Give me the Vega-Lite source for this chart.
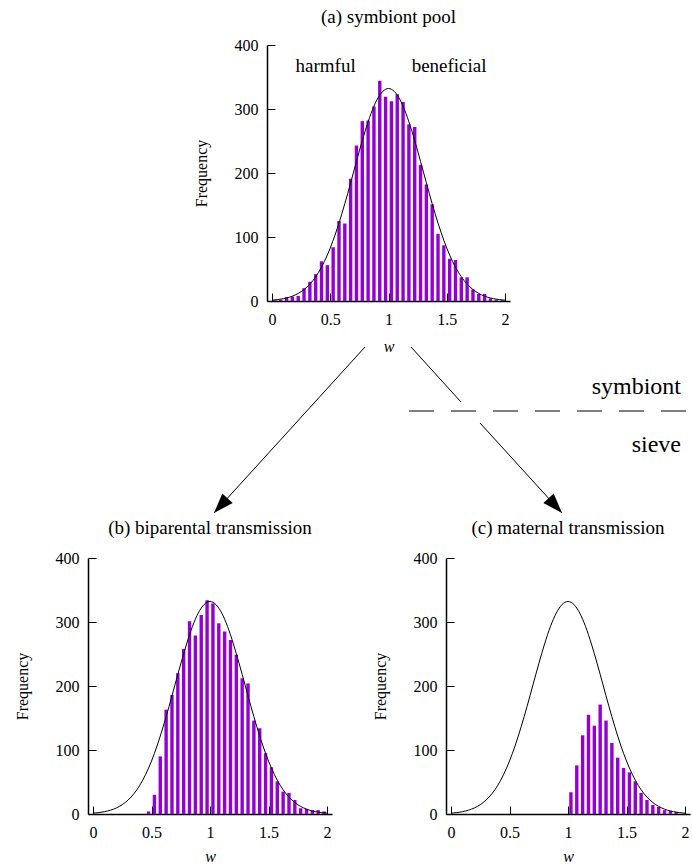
{
  "$schema": "https://vega.github.io/schema/vega-lite/v6.json",
  "autosize": {"type": "none"},
  "padding": {"left": 88, "top": 45, "right": 604, "bottom": 820},
  "background": "white",
  "config": {
    "font": "Liberation Serif",
    "view": {"stroke": null},
    "text": {"font": "Liberation Serif"},
    "axis": {
      "labelFont": "Liberation Serif", "labelFontSize": 16, "labelColor": "black",
      "titleFont": "Liberation Serif", "titleFontWeight": "normal", "titleColor": "black", "titleFontSize": 16,
      "domainColor": "black", "domainWidth": 1.5, "tickColor": "black", "tickWidth": 1, "tickSize": -8, "grid": false
    },
    "title": {"font": "Liberation Serif", "fontSize": 19, "fontWeight": "normal", "color": "black", "frame": "group", "baseline": "bottom", "offset": 12}
  },
  "datasets": {
    "pool": [
      {"w":0.025,"freq":1},{"w":0.075,"freq":2},{"w":0.125,"freq":6},{"w":0.175,"freq":7},{"w":0.225,"freq":8},
      {"w":0.275,"freq":20},{"w":0.325,"freq":30},{"w":0.375,"freq":42},{"w":0.425,"freq":62},{"w":0.475,"freq":56},
      {"w":0.525,"freq":84},{"w":0.575,"freq":125},{"w":0.625,"freq":121},{"w":0.675,"freq":191},{"w":0.725,"freq":243},
      {"w":0.775,"freq":281},{"w":0.825,"freq":282},{"w":0.875,"freq":304},{"w":0.925,"freq":344},{"w":0.975,"freq":319},
      {"w":1.025,"freq":312},{"w":1.075,"freq":323},{"w":1.125,"freq":311},{"w":1.175,"freq":276},{"w":1.225,"freq":272},
      {"w":1.275,"freq":213},{"w":1.325,"freq":182},{"w":1.375,"freq":151},{"w":1.425,"freq":105},{"w":1.475,"freq":87},
      {"w":1.525,"freq":66},{"w":1.575,"freq":64},{"w":1.625,"freq":37},{"w":1.675,"freq":37},{"w":1.725,"freq":18},
      {"w":1.775,"freq":11},{"w":1.825,"freq":11},{"w":1.875,"freq":4},{"w":1.925,"freq":2},{"w":1.975,"freq":1}
    ],
    "bip": [
      {"w":0.475,"freq":4},{"w":0.525,"freq":30},{"w":0.575,"freq":90},{"w":0.625,"freq":163},{"w":0.675,"freq":186},
      {"w":0.725,"freq":220},{"w":0.775,"freq":258},{"w":0.825,"freq":301},{"w":0.875,"freq":279},{"w":0.925,"freq":311},
      {"w":0.975,"freq":334},{"w":1.025,"freq":329},{"w":1.075,"freq":298},{"w":1.125,"freq":285},{"w":1.175,"freq":272},
      {"w":1.225,"freq":249},{"w":1.275,"freq":212},{"w":1.325,"freq":204},{"w":1.375,"freq":146},{"w":1.425,"freq":134},
      {"w":1.475,"freq":95},{"w":1.525,"freq":73},{"w":1.575,"freq":51},{"w":1.625,"freq":35},{"w":1.675,"freq":33},
      {"w":1.725,"freq":22},{"w":1.775,"freq":9},{"w":1.825,"freq":8},{"w":1.875,"freq":6},{"w":1.925,"freq":6},{"w":1.975,"freq":4}
    ],
    "mat": [
      {"w":1.025,"freq":34},{"w":1.075,"freq":76},{"w":1.125,"freq":123},{"w":1.175,"freq":155},{"w":1.225,"freq":138},
      {"w":1.275,"freq":171},{"w":1.325,"freq":146},{"w":1.375,"freq":111},{"w":1.425,"freq":88},{"w":1.475,"freq":72},
      {"w":1.525,"freq":65},{"w":1.575,"freq":51},{"w":1.625,"freq":33},{"w":1.675,"freq":22},{"w":1.725,"freq":14},
      {"w":1.775,"freq":11},{"w":1.825,"freq":6},{"w":1.875,"freq":5},{"w":1.925,"freq":3}
    ],
    "curve": [
      {"w":0,"freq":1.3},{"w":0.05,"freq":2.2},{"w":0.1,"freq":3.7},{"w":0.15,"freq":6.0},{"w":0.2,"freq":9.5},
      {"w":0.25,"freq":14.6},{"w":0.3,"freq":21.8},{"w":0.35,"freq":31.7},{"w":0.4,"freq":44.9},{"w":0.45,"freq":61.8},
      {"w":0.5,"freq":82.8},{"w":0.55,"freq":107.8},{"w":0.6,"freq":136.5},{"w":0.65,"freq":168.1},{"w":0.7,"freq":201.4},
      {"w":0.75,"freq":234.6},{"w":0.8,"freq":265.8},{"w":0.85,"freq":293.0},{"w":0.9,"freq":314.1},{"w":0.95,"freq":327.4},
      {"w":1.0,"freq":332},
      {"w":1.05,"freq":327.4},{"w":1.1,"freq":314.1},{"w":1.15,"freq":293.0},{"w":1.2,"freq":265.8},{"w":1.25,"freq":234.6},
      {"w":1.3,"freq":201.4},{"w":1.35,"freq":168.1},{"w":1.4,"freq":136.5},{"w":1.45,"freq":107.8},{"w":1.5,"freq":82.8},
      {"w":1.55,"freq":61.8},{"w":1.6,"freq":44.9},{"w":1.65,"freq":31.7},{"w":1.7,"freq":21.8},{"w":1.75,"freq":14.6},
      {"w":1.8,"freq":9.5},{"w":1.85,"freq":6.0},{"w":1.9,"freq":3.7},{"w":1.95,"freq":2.2},{"w":2.0,"freq":1.3}
    ],
    "poolLabels": [
      {"w":0.46,"freq":367,"label":"harmful"},
      {"w":1.52,"freq":367,"label":"beneficial"},
      {"w":1.0,"freq":443,"label":"(a) symbiont pool"}
    ],
    "segments": [
      {"x":365,"y":347,"x2":214,"y2":513},
      {"x":411,"y":347,"x2":461,"y2":402},
      {"x":480,"y":423,"x2":562,"y2":513}
    ],
    "heads": [
      {"x":214,"y":513,"ang":222.5},
      {"x":562,"y":513,"ang":137.7}
    ],
    "sieveLine": [
      {"x":409,"y":411,"x2":692,"y2":411}
    ],
    "sieveText": [
      {"x":681,"y":387,"label":"symbiont"},
      {"x":681,"y":445,"label":"sieve"}
    ]
  },
  "vconcat": [
    {
      "width": 604, "height": 513,
      "layer": [
        {
          "layer": [
            {
              "data": {"name": "pool"},
              "mark": {"type": "bar", "width": 3.4, "color": "#9400D3"},
              "encoding": {
                "x": {"field": "w", "type": "quantitative", "scale": {"domain": [0, 2], "range": [179, 422], "nice": false, "zero": false},
                  "axis": {"values": [0, 0.5, 1, 1.5, 2], "format": "~g", "labelFlush": false, "labelPadding": 18, "labelFont": "Liberation Serif", "offset": -257,
                    "title": "w", "titleFont": "Liberation Serif", "titleFontStyle": "italic", "titleX": 300.5, "titleY": 45, "titleBaseline": "middle", "titleAlign": "center"}},
                "y": {"field": "freq", "type": "quantitative", "scale": {"domain": [0, 400], "range": [256, 0], "nice": false},
                  "axis": {"values": [0, 100, 200, 300, 400], "format": "d", "labelPadding": 17, "labelFont": "Liberation Serif", "offset": -179,
                    "title": "Frequency", "titleFont": "Liberation Serif", "titleAngle": -90, "titleX": -66, "titleY": 128, "titleBaseline": "middle", "titleAlign": "center"}}
              }
            },
            {
              "mark": {"type": "rule", "color": "#8ECEF0", "strokeWidth": 1.5},
              "encoding": {"x": {"datum": 1}, "y": {"datum": 0}, "y2": {"datum": 400}}
            },
            {
              "data": {"name": "curve"},
              "mark": {"type": "line", "color": "black", "strokeWidth": 1, "interpolate": "monotone"},
              "encoding": {
                "x": {"field": "w", "type": "quantitative"},
                "y": {"field": "freq", "type": "quantitative"}
              }
            },
            {
              "data": {"name": "poolLabels"},
              "mark": {"type": "text", "font": "Liberation Serif", "fontSize": 19, "baseline": "middle", "align": "center", "color": "black"},
              "encoding": {
                "x": {"field": "w", "type": "quantitative"},
                "y": {"field": "freq", "type": "quantitative"},
                "text": {"field": "label"}
              }
            }
          ]
        },
        {
          "layer": [
            {
              "data": {"name": "segments"},
              "mark": {"type": "rule", "color": "black", "strokeWidth": 1},
              "encoding": {
                "x": {"field": "x", "type": "quantitative", "scale": {"domain": [88, 692], "nice": false, "zero": false}, "axis": null},
                "y": {"field": "y", "type": "quantitative", "scale": {"domain": [45, 558], "nice": false, "zero": false, "reverse": true}, "axis": null},
                "x2": {"field": "x2"},
                "y2": {"field": "y2"}
              }
            },
            {
              "data": {"name": "sieveLine"},
              "mark": {"type": "rule", "color": "black", "strokeWidth": 1.2, "strokeDash": [25, 17]},
              "encoding": {
                "x": {"field": "x", "type": "quantitative", "axis": null},
                "y": {"field": "y", "type": "quantitative", "axis": null},
                "x2": {"field": "x2"},
                "y2": {"field": "y2"}
              }
            },
            {
              "data": {"name": "heads"},
              "mark": {"type": "point", "shape": "M0,0L0.35,1L-0.35,1Z", "size": 1600, "filled": true, "color": "black", "opacity": 1, "strokeWidth": 0},
              "encoding": {
                "x": {"field": "x", "type": "quantitative", "axis": null},
                "y": {"field": "y", "type": "quantitative", "axis": null},
                "angle": {"field": "ang", "type": "quantitative", "scale": null}
              }
            },
            {
              "data": {"name": "sieveText"},
              "mark": {"type": "text", "font": "Liberation Serif", "fontSize": 24, "align": "right", "baseline": "middle", "color": "black"},
              "encoding": {
                "x": {"field": "x", "type": "quantitative", "axis": null},
                "y": {"field": "y", "type": "quantitative", "axis": null},
                "text": {"field": "label"}
              }
            }
          ]
        }
      ],
      "resolve": {"scale": {"x": "independent", "y": "independent"}, "axis": {"x": "independent", "y": "independent"}}
    },
    {
      "hconcat": [
        {
          "width": 244, "height": 256,
          "title": {"text": "(b) biparental transmission"},
          "layer": [
            {
              "data": {"name": "bip"},
              "mark": {"type": "bar", "width": 3.4, "color": "#9400D3"},
              "encoding": {
                "x": {"field": "w", "type": "quantitative", "scale": {"domain": [0, 2], "nice": false, "zero": false},
                  "axis": {"values": [0, 0.5, 1, 1.5, 2], "format": "~g", "labelFlush": false, "labelPadding": 18, "labelFont": "Liberation Serif",
                    "title": "w", "titleFont": "Liberation Serif", "titleFontStyle": "italic", "titleX": 122, "titleY": 42, "titleBaseline": "middle", "titleAlign": "center"}},
                "y": {"field": "freq", "type": "quantitative", "scale": {"domain": [0, 400], "nice": false},
                  "axis": {"values": [0, 100, 200, 300, 400], "format": "d", "labelPadding": 17, "labelFont": "Liberation Serif",
                    "title": "Frequency", "titleFont": "Liberation Serif", "titleAngle": -90, "titleX": -66, "titleY": 128, "titleBaseline": "middle", "titleAlign": "center"}}
              }
            },
            {
              "mark": {"type": "rule", "color": "#8ECEF0", "strokeWidth": 1.5},
              "encoding": {"x": {"datum": 1}}
            },
            {
              "data": {"name": "curve"},
              "mark": {"type": "line", "color": "black", "strokeWidth": 1, "interpolate": "monotone"},
              "encoding": {
                "x": {"field": "w", "type": "quantitative"},
                "y": {"field": "freq", "type": "quantitative"}
              }
            }
          ]
        },
        {
          "width": 244, "height": 256,
          "title": {"text": "(c) maternal transmission"},
          "layer": [
            {
              "data": {"name": "mat"},
              "mark": {"type": "bar", "width": 3.4, "color": "#9400D3"},
              "encoding": {
                "x": {"field": "w", "type": "quantitative", "scale": {"domain": [0, 2], "nice": false, "zero": false},
                  "axis": {"values": [0, 0.5, 1, 1.5, 2], "format": "~g", "labelFlush": false, "labelPadding": 18, "labelFont": "Liberation Serif",
                    "title": "w", "titleFont": "Liberation Serif", "titleFontStyle": "italic", "titleX": 122, "titleY": 42, "titleBaseline": "middle", "titleAlign": "center"}},
                "y": {"field": "freq", "type": "quantitative", "scale": {"domain": [0, 400], "nice": false},
                  "axis": {"values": [0, 100, 200, 300, 400], "format": "d", "labelPadding": 17, "labelFont": "Liberation Serif",
                    "title": "Frequency", "titleFont": "Liberation Serif", "titleAngle": -90, "titleX": -66, "titleY": 128, "titleBaseline": "middle", "titleAlign": "center"}}
              }
            },
            {
              "mark": {"type": "rule", "color": "#5DA9DD", "strokeWidth": 1},
              "encoding": {"x": {"datum": 1}}
            },
            {
              "data": {"name": "curve"},
              "mark": {"type": "line", "color": "black", "strokeWidth": 1, "interpolate": "monotone"},
              "encoding": {
                "x": {"field": "w", "type": "quantitative"},
                "y": {"field": "freq", "type": "quantitative"}
              }
            }
          ]
        }
      ],
      "spacing": 114,
      "bounds": "flush"
    }
  ],
  "spacing": 0,
  "bounds": "flush"
}
